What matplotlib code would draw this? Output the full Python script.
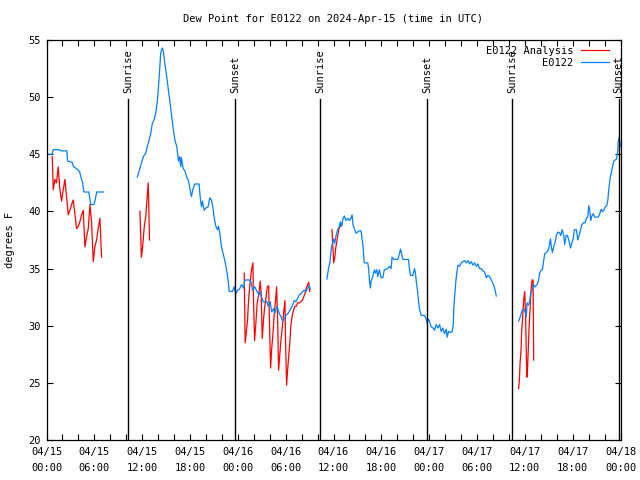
import matplotlib
matplotlib.use("Agg")
import matplotlib.pyplot as plt
import matplotlib.ticker as mticker
import matplotlib.transforms as mtransforms
import numpy as np

# hours since 2024-04-15 00:00 UTC, dew point in degrees F
obs_hours_1 = [0.0, 0.7, 0.85, 1.6, 1.8, 2.55, 2.65, 3.2, 3.4, 3.65, 4.15, 4.35, 4.5, 4.7, 5.3, 5.45,
               5.55, 5.95, 6.1, 6.3, 7.15]
obs_vals_1 = [45.0, 45.0, 45.4, 45.4, 45.3, 45.3, 44.4, 44.3, 43.9, 43.8, 43.5, 42.9, 42.6, 41.7, 41.7, 41.1,
              40.6, 40.6, 41.0, 41.7, 41.7]

obs_hours_2 = [11.39, 11.6, 11.81, 12.15, 12.44, 12.65, 12.86, 13.07, 13.28, 13.49, 13.7, 13.91, 14.11, 14.33,
               14.54, 14.66, 14.87, 15.08, 15.29, 15.5, 15.71, 15.92, 16.12, 16.34, 16.55, 16.71, 16.84, 16.92,
               17.13, 17.38, 17.59, 17.8, 18.01, 18.18, 18.35, 18.6, 19.14, 19.27, 19.44, 19.56, 19.77, 19.98,
               20.27, 20.48, 20.69, 20.86, 21.02, 21.24, 21.45, 21.57, 21.74, 21.95, 22.16, 22.37, 22.58, 22.78,
               22.91, 23.33, 23.54, 23.75, 23.96, 24.2, 24.47, 24.72, 24.88, 25.42, 25.63, 25.85, 26.14, 26.39,
               26.68, 26.8, 26.98, 27.18, 27.65, 27.81, 28.06, 28.24, 28.49, 28.65, 28.9, 29.19, 29.4, 29.62,
               29.82, 30.03, 30.32, 30.57, 30.87, 31.08, 31.29, 31.5, 31.7, 31.92, 32.13, 32.33, 32.55, 32.76,
               32.96, 33.09]
obs_vals_2 = [43.0, 43.5, 44.0, 44.8, 45.1, 45.7, 46.2, 46.8, 47.7, 48.0, 48.6, 49.7, 51.5, 53.9,
              54.3, 54.0, 52.8, 51.8, 50.6, 49.5, 48.3, 47.1, 46.2, 45.7, 44.4, 44.8, 43.9, 44.7,
              43.8, 43.5, 43.0, 42.7, 41.9, 41.3, 41.9, 42.4, 42.4, 41.3, 40.4, 40.9, 40.1, 40.3,
              40.4, 41.2, 41.0, 40.4, 39.5, 38.7, 38.4, 38.7, 38.1, 36.9, 36.3, 35.7, 34.9, 34.0,
              33.0, 33.0, 33.4, 32.8, 33.1, 33.2, 33.6, 33.3, 34.0, 34.0, 33.9, 33.1, 33.4, 33.0,
              32.7, 33.0, 32.5, 32.1, 32.1, 31.7, 32.1, 31.2, 31.5, 31.1, 31.7, 31.1, 30.8, 30.4,
              30.6, 30.9, 31.1, 31.4, 31.8, 32.2, 32.1, 32.4, 32.7, 32.8, 33.0, 33.1, 33.0, 33.3,
              33.5, 33.2]

obs_hours_3 = [35.18, 35.35, 35.56, 35.73, 35.9, 36.03, 36.15, 36.32, 36.53, 36.73, 36.86, 37.03, 37.2, 37.36,
               37.57, 37.79, 37.99, 38.2, 38.33, 38.45, 38.62, 38.83, 39.04, 39.24, 39.46, 39.58, 39.71, 39.8,
               39.87, 40.3, 40.42, 40.5, 40.63, 40.71, 40.93, 41.13, 41.25, 41.43, 41.55, 41.76, 41.97, 42.18,
               42.38, 42.81, 43.01, 43.23, 43.35, 43.57, 44.07, 44.27, 44.4, 44.57, 44.7, 45.4, 45.53, 45.65,
               45.95, 46.16, 46.28, 46.41, 46.53, 46.66, 46.78, 47.0, 47.41, 47.63, 47.75, 47.88, 48.04, 48.25,
               48.5, 48.67, 48.88, 49.1, 49.3, 49.51, 49.72, 49.92, 50.14, 50.26, 50.43, 50.68, 50.89, 51.02,
               51.1, 51.23, 51.36, 51.48, 51.61, 51.81, 52.02, 52.24, 52.44, 52.65, 52.87, 53.07, 53.28, 53.49,
               53.69, 53.91, 54.12, 54.32, 54.54, 54.75, 54.95, 55.17, 55.38, 55.58, 55.79, 56.01, 56.21, 56.42]
obs_vals_3 = [34.1, 34.9, 35.6, 36.8, 37.3, 37.6, 37.2, 37.9, 38.4, 38.7, 39.1, 38.7, 39.4, 39.6,
              39.2, 39.4, 39.2, 39.4, 39.7, 38.8, 38.5, 38.1, 38.2, 38.3, 38.3, 37.6, 36.9, 35.9,
              35.5, 35.5, 34.9, 34.0, 33.3, 33.9, 34.3, 34.9, 34.6, 34.9, 34.3, 34.9, 34.2, 34.2,
              34.9, 35.0, 35.2, 35.0, 36.0, 35.8, 35.8, 36.3, 36.7, 36.2, 35.8, 35.8, 35.0, 34.4,
              34.4, 35.0, 34.6, 33.7, 33.1, 32.2, 31.5, 30.9, 30.9, 30.6, 30.2, 30.6, 30.4, 29.9,
              29.8, 29.6, 30.1, 29.8, 30.1, 29.5, 29.8, 29.3, 29.7, 29.0, 29.5, 29.4, 29.5, 30.1,
              31.7, 32.8, 34.0, 34.7, 35.3, 35.2, 35.5, 35.6, 35.7, 35.5, 35.7, 35.4, 35.6, 35.3,
              35.5, 35.2, 35.4, 35.0, 35.0, 34.8, 34.7, 34.2, 34.4, 34.3, 34.0, 33.7, 33.3, 32.6]

obs_hours_4 = [59.22, 59.44, 59.6, 59.78, 59.94, 60.1, 60.19, 60.28, 60.44, 60.61, 60.73, 60.91, 61.07, 61.28,
               61.54, 61.7, 61.86, 62.08, 62.2, 62.37, 62.49, 62.7, 62.92, 63.04, 63.21, 63.33, 63.46, 63.62,
               63.8, 63.96, 64.17, 64.38, 64.5, 64.68, 64.88, 65.0, 65.18, 65.34, 65.51, 65.72, 65.88, 66.06,
               66.22, 66.47, 66.64, 66.81, 66.98, 67.14, 67.32, 67.57, 67.73, 67.89, 68.02, 68.15, 68.27, 68.4,
               68.57, 68.77, 69.2, 69.4, 69.58, 69.74, 69.91, 70.08, 70.28, 70.41, 70.53, 70.66, 70.78, 70.91,
               71.03, 71.16, 71.34, 71.5, 71.63, 71.71, 71.84, 71.96, 71.99]
obs_vals_4 = [30.4, 30.8, 31.2, 31.5, 31.4, 31.1, 30.8, 32.0, 31.8, 32.1, 32.8, 33.1, 33.6, 33.4,
              33.6, 33.9, 34.6, 34.9, 34.9, 35.7, 36.3, 36.4, 36.6, 36.9, 37.6, 36.9, 36.4, 36.9,
              37.3, 37.9, 38.2, 38.1, 37.9, 38.4, 37.9, 37.1, 37.9, 37.9, 37.5, 36.8, 37.2, 37.6,
              38.4, 38.4, 37.5, 37.9, 38.4, 38.8, 39.0, 39.0, 39.4, 39.5, 40.5, 40.1, 39.2, 39.6,
              39.8, 39.5, 39.5, 39.8, 40.2, 40.0, 40.1, 40.4, 40.5, 41.0, 41.9, 42.7, 43.2, 43.6,
              44.0, 44.4, 44.5, 44.6, 45.1, 46.1, 46.5, 45.8, 45.7]

ana_hours_1 = [0.72, 0.85, 1.05, 1.26, 1.47, 1.68, 1.89, 2.10, 2.31, 2.52, 2.73, 2.93, 3.14, 3.35, 3.56,
               3.77, 3.98, 4.19, 4.40, 4.61, 4.82, 5.03, 5.24, 5.45, 5.66, 5.86, 6.07, 6.28, 6.49, 6.70, 6.91]
ana_vals_1 = [44.8, 41.9, 42.8, 42.5, 43.9, 41.9, 40.9, 41.9, 42.8, 41.3, 39.7, 40.1, 40.6, 41.0, 39.8,
              38.5, 38.7, 39.1, 39.7, 40.1, 36.9, 37.8, 38.5, 40.6, 39.0, 35.6, 36.9, 37.5, 38.5, 39.4, 36.0]

ana_hours_2 = [11.72, 11.9, 12.02, 12.15, 12.27, 12.44, 12.57, 12.69, 12.76, 12.84, 12.92]
ana_vals_2 = [40.0, 36.0, 36.6, 37.7, 38.7, 39.5, 40.7, 41.7, 42.5, 39.9, 37.5]

ana_hours_3 = [24.8, 24.92, 25.22, 25.34, 25.51, 25.72, 25.89, 25.97, 26.1, 26.26, 26.43, 26.64, 26.81,
               26.93, 27.06, 27.23, 27.35, 27.52, 27.69, 27.86, 27.98, 28.11, 28.27, 28.44, 28.57, 28.73,
               28.86, 28.99, 29.11, 29.28, 29.4, 29.57, 29.74, 29.91, 29.99, 30.12, 30.24, 30.41, 30.54,
               30.66, 30.83, 31.0, 31.16, 31.33, 31.5, 31.71, 31.92, 32.08, 32.25, 32.42, 32.58, 32.76,
               32.88, 33.01]
ana_vals_3 = [34.6, 28.5, 30.5, 32.2, 33.6, 34.9, 35.5, 32.2, 28.7, 30.2, 32.0, 32.8, 33.9,
              32.8, 28.9, 30.6, 31.5, 32.4, 33.4, 33.5, 29.9, 26.3, 28.2, 29.6, 31.1, 32.2,
              33.4, 30.6, 26.1, 27.6, 28.7, 29.8, 31.1, 32.2, 28.5, 24.8, 26.1, 27.6, 28.7,
              30.1, 30.9, 31.4, 31.7, 31.7, 32.0, 32.0, 32.1, 32.2, 32.5, 32.8, 33.3, 33.6,
              33.8, 33.0]

ana_hours_4 = [35.81, 36.02, 36.15, 36.28, 36.4, 36.53, 36.65, 36.82, 36.94, 37.07]
ana_vals_4 = [38.4, 35.5, 35.9, 36.8, 37.3, 37.9, 38.4, 38.7, 38.8, 38.9]

ana_hours_5 = [59.22, 59.31, 59.4, 59.53, 59.6, 59.73, 59.85, 59.98, 60.1, 60.19, 60.28, 60.35, 60.44,
               60.53, 60.66, 60.78, 60.91, 61.03, 61.11]
ana_vals_5 = [24.5, 25.2, 26.7, 28.0, 29.5, 30.8, 32.2, 33.0, 30.8, 27.3, 25.5, 26.4, 28.2,
              29.8, 31.5, 33.1, 34.0, 34.0, 27.0]

sunrise_hours = [10.23, 34.32, 58.4]
sunset_hours = [23.65, 47.74, 71.77]

tick_hours = [0, 6, 12, 18, 24, 30, 36, 42, 48, 54, 60, 66, 72]
tick_labels = ["04/15\n00:00", "04/15\n06:00", "04/15\n12:00", "04/15\n18:00",
               "04/16\n00:00", "04/16\n06:00", "04/16\n12:00", "04/16\n18:00",
               "04/17\n00:00", "04/17\n06:00", "04/17\n12:00", "04/17\n18:00",
               "04/18\n00:00"]


def join_segments(segs):
    xs, ys = [], []
    for h, v in segs:
        xs += list(h) + [np.nan]
        ys += list(v) + [np.nan]
    return xs, ys


plt.rcParams['font.family'] = 'DejaVu Sans Mono'
plt.rcParams['font.size'] = 7.5

fig = plt.figure(figsize=(6.4, 4.8), dpi=100)
ax = fig.add_axes([46.5 / 640, 40 / 480, 574 / 640, 400 / 480])

ana_x, ana_y = join_segments([(ana_hours_1, ana_vals_1), (ana_hours_2, ana_vals_2), (ana_hours_3, ana_vals_3),
                              (ana_hours_4, ana_vals_4), (ana_hours_5, ana_vals_5)])
obs_x, obs_y = join_segments([(obs_hours_1, obs_vals_1), (obs_hours_2, obs_vals_2),
                              (obs_hours_3, obs_vals_3), (obs_hours_4, obs_vals_4)])

ax.plot(ana_x, ana_y, color='#ff0000', linewidth=0.9, label='E0122 Analysis')
ax.plot(obs_x, obs_y, color='#0080ff', linewidth=0.9, label='E0122')

trans = mtransforms.blended_transform_factory(ax.transData, ax.transAxes)
for h in sunrise_hours:
    ax.axvline(h, ymin=0, ymax=0.853, color='black', linewidth=1)
    ax.text(h, 0.868, 'Sunrise', transform=trans, rotation=90, ha='center', va='bottom')
for h in sunset_hours:
    ax.axvline(h, ymin=0, ymax=0.853, color='black', linewidth=1)
    ax.text(h, 0.868, 'Sunset', transform=trans, rotation=90, ha='center', va='bottom')

ax.set_xlim(0, 72)
ax.set_ylim(20, 55)
ax.xaxis.set_major_locator(mticker.FixedLocator(tick_hours))
ax.set_xticklabels(tick_labels, linespacing=1.75)
ax.xaxis.set_minor_locator(mticker.MultipleLocator(2))
ax.yaxis.set_major_locator(mticker.MultipleLocator(5))
ax.tick_params(which='both', direction='in', length=4, width=0.8, top=True, right=True)
ax.tick_params(axis='x', pad=5)
ax.tick_params(axis='y', pad=4)
for s in ax.spines.values():
    s.set_linewidth(0.9)

fig.text(333 / 640, 1 - 19 / 480, 'Dew Point for E0122 on 2024-Apr-15 (time in UTC)', ha='center', va='center')
fig.text(10 / 640, 0.5, 'degrees F', rotation=90, ha='center', va='center')

ax.legend(loc='upper right', bbox_to_anchor=(0.98, 0.985), frameon=False, markerfirst=False,
          handlelength=2.7, handletextpad=0.7, labelspacing=0.2, borderpad=0, borderaxespad=0)

plt.savefig('out.png', dpi=100)
